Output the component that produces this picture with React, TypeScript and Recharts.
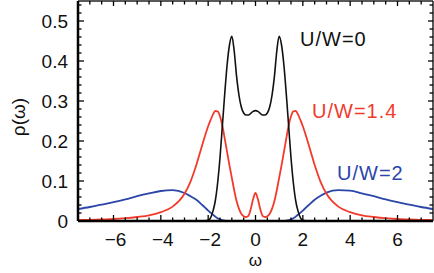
import React from 'react';
import { LineChart, Line, XAxis, YAxis } from 'recharts';

const OMEGA = [-7.5, -7, -6.5, -6, -5.5, -5, -4.5, -4, -3.5, -3, -2.75, -2.5, -2.25, -2, -1.9, -1.8, -1.7, -1.6, -1.5, -1.4, -1.3, -1.2, -1.1, -1, -0.9, -0.8, -0.7, -0.6, -0.5, -0.4, -0.3, -0.2, -0.1, 0, 0.1, 0.2, 0.3, 0.4, 0.5, 0.6, 0.7, 0.8, 0.9, 1, 1.1, 1.2, 1.3, 1.4, 1.5, 1.6, 1.7, 1.8, 1.9, 2, 2.25, 2.5, 2.75, 3, 3.5, 4, 4.5, 5, 5.5, 6, 6.5, 7, 7.5];

// U/W = 0
const RHO_U0 = [0, 0, 0, 0, 0, 0, 0, 0, 0, 0, 0, 0, 0, 0.002, 0.008, 0.024, 0.05, 0.095, 0.158, 0.238, 0.318, 0.39, 0.44, 0.462, 0.425, 0.362, 0.315, 0.285, 0.27, 0.265, 0.265, 0.269, 0.274,
  0.276,
  0.274, 0.269, 0.265, 0.265, 0.27, 0.285, 0.315, 0.362, 0.425, 0.462, 0.44, 0.39, 0.318, 0.238, 0.158, 0.095, 0.05, 0.024, 0.008, 0.002, 0, 0, 0, 0, 0, 0, 0, 0, 0, 0, 0, 0, 0];

// U/W = 1.4
const RHO_U14 = [0.002, 0.003, 0.004, 0.005, 0.007, 0.01, 0.014, 0.022, 0.036, 0.068, 0.098, 0.14, 0.19, 0.237, 0.252, 0.266, 0.275, 0.274, 0.262, 0.238, 0.206, 0.172, 0.139, 0.108, 0.077, 0.05, 0.031, 0.018, 0.012, 0.01, 0.013, 0.03, 0.055,
  0.07,
  0.055, 0.03, 0.013, 0.01, 0.012, 0.018, 0.031, 0.05, 0.077, 0.108, 0.139, 0.172, 0.206, 0.238, 0.262, 0.274, 0.275, 0.266, 0.252, 0.237, 0.19, 0.14, 0.098, 0.068, 0.036, 0.022, 0.014, 0.01, 0.007, 0.005, 0.004, 0.003, 0.002];

// U/W = 2
const RHO_U2 = [0.03, 0.035, 0.041, 0.047, 0.054, 0.062, 0.069, 0.075, 0.077, 0.07, 0.062, 0.053, 0.04, 0.026, 0.021, 0.016, 0.011, 0.007, 0.004, 0.002, 0.001, 0, 0, 0, 0, 0, 0, 0, 0, 0, 0, 0, 0,
  0,
  0, 0, 0, 0, 0, 0, 0, 0, 0, 0, 0, 0, 0.001, 0.002, 0.004, 0.007, 0.011, 0.016, 0.021, 0.026, 0.04, 0.053, 0.063, 0.071, 0.077, 0.076, 0.069, 0.062, 0.054, 0.047, 0.041, 0.035, 0.03];

const X_MAJOR = [-6, -4, -2, 0, 2, 4, 6];
const X_TICKS = [-7, -6.5, -6, -5.5, -5, -4.5, -4, -3.5, -3, -2.5, -2, -1.5, -1, -0.5, 0, 0.5, 1, 1.5, 2, 2.5, 3, 3.5, 4, 4.5, 5, 5.5, 6, 6.5, 7];
const Y_MAJOR = [0, 0.1, 0.2, 0.3, 0.4, 0.5];
const Y_TICKS = [0, 0.02, 0.04, 0.06, 0.08, 0.1, 0.12, 0.14, 0.16, 0.18, 0.2, 0.22, 0.24, 0.26, 0.28, 0.3, 0.32, 0.34, 0.36, 0.38, 0.4, 0.42, 0.44, 0.46, 0.48, 0.5, 0.52, 0.54];

const SERIES_LABELS = ['U/W=0', 'U/W=1.4', 'U/W=2'];
const COLORS = ['#111111', '#f23a2b', '#2b45a8'];

const data = OMEGA.map((w, i) => ({ w, u0: RHO_U0[i], u14: RHO_U14[i], u2: RHO_U2[i] }));

const FONT = '"Liberation Sans", Arial, sans-serif';
const W = 434;
const H = 273;

const fmtX = (v: number) => (v < 0 ? '\u2212' + Math.abs(v) : String(v));
const num = (v: any) => Number(v);

const BottomTick = (props: any) => {
  const x = num(props.x);
  const y = num(props.y);
  const v = props.payload.value;
  const major = X_MAJOR.includes(v);
  return (
    <g>
      <path d={`M${x},${y}V${y - (major ? 6 : 3.5)}`} stroke="#000" strokeWidth={1.3} fill="none" />
      {major && (
        <text x={x + (v < 0 ? 2 : 0)} y={y + 24.5} textAnchor="middle" fontSize={19} fontFamily={FONT} fill="#111">
          {fmtX(v)}
        </text>
      )}
    </g>
  );
};

const TopTick = (props: any) => {
  const x = num(props.x);
  const y = num(props.y);
  const major = X_MAJOR.includes(props.payload.value);
  return <path d={`M${x},${y}V${y + (major ? 5 : 3.5)}`} stroke="#000" strokeWidth={1.3} fill="none" />;
};

const LeftTick = (props: any) => {
  const x = num(props.x);
  const y = num(props.y);
  const v = props.payload.value;
  const major = Y_MAJOR.includes(v);
  return (
    <g>
      <path d={`M${x},${y}H${x + (major ? 6 : 3.5)}`} stroke="#000" strokeWidth={1.3} fill="none" />
      {major && (
        <text x={x - 10} y={y} dy="0.36em" textAnchor="end" fontSize={19} fontFamily={FONT} fill="#111">
          {String(v)}
        </text>
      )}
    </g>
  );
};

const RightTick = (props: any) => {
  const x = num(props.x);
  const y = num(props.y);
  const major = Y_MAJOR.includes(props.payload.value);
  return <path d={`M${x},${y}H${x - (major ? 5 : 3.5)}`} stroke="#000" strokeWidth={1.3} fill="none" />;
};

const YLabel = (props: any) => {
  const vb = props.viewBox;
  const cx = 18;
  const cy = vb.y + vb.height / 2 + 6;
  return (
    <text x={cx} y={cy} transform={`rotate(-90 ${cx} ${cy})`} textAnchor="middle" dy="0.35em" fontSize={19} fontFamily={FONT} fill="#111">
      ρ(ω)
    </text>
  );
};

const XLabel = (props: any) => {
  const vb = props.viewBox;
  return (
    <text x={vb.x + vb.width / 2} y={vb.y + 45} textAnchor="middle" fontSize={17} fontFamily={FONT} fill="#111">
      ω
    </text>
  );
};

export default function App() {
  return (
    <div style={{ position: 'absolute', left: 0, top: 0, width: W, height: H, background: '#fff' }}>
      <LineChart width={W} height={H} data={data} margin={{ top: 0, right: 0, bottom: 0, left: 0 }}>
        <XAxis
          dataKey="w"
          type="number"
          domain={[-7.5, 7.5]}
          ticks={X_TICKS}
          interval={0}
          height={52}
          tickSize={0}
          tickMargin={0}
          tickLine={false}
          tick={<BottomTick />}
          axisLine={{ stroke: '#000', strokeWidth: 2.5 }}
          allowDataOverflow
          label={<XLabel />}
        />
        <XAxis
          xAxisId="top"
          dataKey="w"
          orientation="top"
          type="number"
          domain={[-7.5, 7.5]}
          ticks={X_TICKS}
          interval={0}
          height={1}
          tickSize={0}
          tickMargin={0}
          tickLine={false}
          tick={<TopTick />}
          axisLine={{ stroke: '#222', strokeWidth: 1.5 }}
          allowDataOverflow
        />
        <YAxis
          type="number"
          domain={[0, 0.55]}
          ticks={Y_TICKS}
          interval={0}
          width={78}
          tickSize={0}
          tickMargin={0}
          tickLine={false}
          tick={<LeftTick />}
          axisLine={{ stroke: '#000', strokeWidth: 2.5 }}
          allowDataOverflow
          label={<YLabel />}
        />
        <YAxis
          yAxisId="right"
          orientation="right"
          type="number"
          domain={[0, 0.55]}
          ticks={Y_TICKS}
          interval={0}
          width={1}
          tickSize={0}
          tickMargin={0}
          tickLine={false}
          tick={<RightTick />}
          axisLine={{ stroke: '#222', strokeWidth: 1.5 }}
          allowDataOverflow
        />
        <Line xAxisId="top" yAxisId="right" dataKey="u0" type="monotone" stroke="none" strokeWidth={0} dot={false} activeDot={false} legendType="none" isAnimationActive={false} />
        <Line dataKey="u2" type="monotone" stroke={COLORS[2]} strokeWidth={1.8} dot={false} isAnimationActive={false} />
        <Line dataKey="u14" type="monotone" stroke={COLORS[1]} strokeWidth={1.8} dot={false} isAnimationActive={false} />
        <Line dataKey="u0" type="monotone" stroke={COLORS[0]} strokeWidth={1.6} dot={false} isAnimationActive={false} />
      </LineChart>
      <svg width={W} height={H} style={{ position: 'absolute', left: 0, top: 0, pointerEvents: 'none' }}>
        <text x={300} y={46} fontSize={20} letterSpacing={1} fontFamily={FONT} fill={COLORS[0]}>{SERIES_LABELS[0]}</text>
        <text x={312} y={118} fontSize={20} letterSpacing={1} fontFamily={FONT} fill={COLORS[1]}>{SERIES_LABELS[1]}</text>
        <text x={337} y={180} fontSize={20} letterSpacing={1} fontFamily={FONT} fill={COLORS[2]}>{SERIES_LABELS[2]}</text>
      </svg>
    </div>
  );
}
